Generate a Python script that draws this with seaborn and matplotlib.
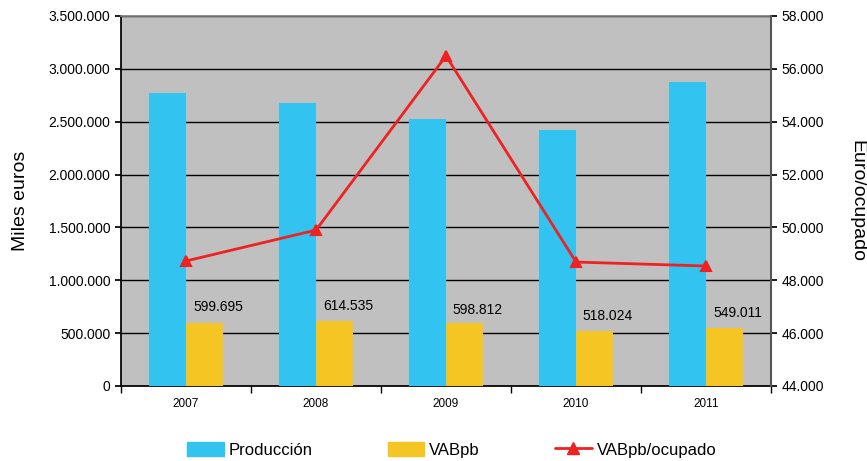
import pandas as pd
import matplotlib.pyplot as plt
import seaborn as sns
from matplotlib.ticker import FuncFormatter, FixedLocator
from matplotlib.patches import Patch
from matplotlib.lines import Line2D

years = ['2007', '2008', '2009', '2010', '2011']
produccion = [2772000, 2677000, 2526000, 2422000, 2876000]
vabpb = [599695, 614535, 598812, 518024, 549011]
vab_ocupado = [48730, 49900, 56490, 48690, 48540]
vab_labels = ['599.695', '614.535', '598.812', '518.024', '549.011']
label_offsets_pt = [6, 6, 4, 6, 6]

c_prod = '#33C3F0'
c_vab = '#F5C623'
c_line = '#EE2222'

df = pd.DataFrame({
    'Año': years * 2,
    'Valor': produccion + vabpb,
    'Serie': ['Producción'] * 5 + ['VABpb'] * 5,
})
df_line = pd.DataFrame({'Año': years, 'VABpb/ocupado': vab_ocupado})

sns.set_theme(style='white')
plt.rcParams['font.family'] = ['Liberation Sans', 'DejaVu Sans']

fig = plt.figure(figsize=(8.67, 4.61), dpi=100)
ax = fig.add_axes([0.1396, 0.1627, 0.7497, 0.8026])
ax.set_facecolor('#C0C0C0')

sns.barplot(data=df, x='Año', y='Valor', hue='Serie', palette=[c_prod, c_vab],
            width=0.57, saturation=1, linewidth=0, ax=ax, legend=False, zorder=3)

fmt = FuncFormatter(lambda v, p: f"{v:,.0f}".replace(",", "."))
ax.set_ylim(0, 3500000)
ax.set_yticks(range(0, 3500001, 500000))
ax.yaxis.set_major_formatter(fmt)
ax.grid(axis='y', color='black', linewidth=1, zorder=1)
ax.set_axisbelow(True)
ax.set_xlim(-0.5, 4.5)
ax.set_xlabel('')
ax.set_ylabel('Miles euros', fontsize=14, labelpad=14, color='black')
ax.tick_params(axis='y', labelsize=10, length=4, direction='out', color='black',
               left=True, labelcolor='black')
ax.tick_params(axis='x', which='major', length=0, labelsize=8.5, pad=9, labelcolor='black')
ax.xaxis.set_minor_locator(FixedLocator([-0.5, 0.5, 1.5, 2.5, 3.5, 4.5]))
ax.tick_params(axis='x', which='minor', length=5, direction='out', color='black', bottom=True)

for s in ['left', 'bottom']:
    ax.spines[s].set_color('black')
ax.spines['top'].set_color('#808080')
ax.spines['right'].set_visible(False)

for i, (v, lab) in enumerate(zip(vabpb, vab_labels)):
    ax.annotate(lab, (i + 0.245, v), xytext=(0, label_offsets_pt[i]),
                textcoords='offset points', ha='center', va='bottom',
                fontsize=10, color='black')

ax2 = ax.twinx()
sns.pointplot(data=df_line, x='Año', y='VABpb/ocupado', color=c_line, markers='^',
              markersize=7, linewidth=2, ax=ax2)
ax2.set_ylim(44000, 58000)
ax2.set_yticks(range(44000, 58001, 2000))
ax2.yaxis.set_major_formatter(fmt)
ax2.set_xlim(-0.5, 4.5)
ax2.set_xlabel('')
ax2.set_ylabel('Euro/ocupado', fontsize=14, rotation=270, labelpad=30, color='black')
ax2.tick_params(axis='y', labelsize=10, length=4, direction='out', color='black',
                right=True, labelcolor='black')
ax2.spines['right'].set_color('#555555')
ax2.spines['right'].set_linewidth(1.5)
for s in ['left', 'top', 'bottom']:
    ax2.spines[s].set_visible(False)

handles = [Patch(color=c_prod), Patch(color=c_vab),
           Line2D([0], [0], color=c_line, lw=2, marker='^', markersize=8)]
fig.legend(handles, ['Producción', 'VABpb', 'VABpb/ocupado'], loc='lower center',
           bbox_to_anchor=(0.521, -0.025), ncol=3, frameon=False, fontsize=12,
           columnspacing=4.5, handlelength=2.2, handleheight=0.9, handletextpad=0.3,
           labelcolor='black')

fig.savefig('out.png', dpi=100)
